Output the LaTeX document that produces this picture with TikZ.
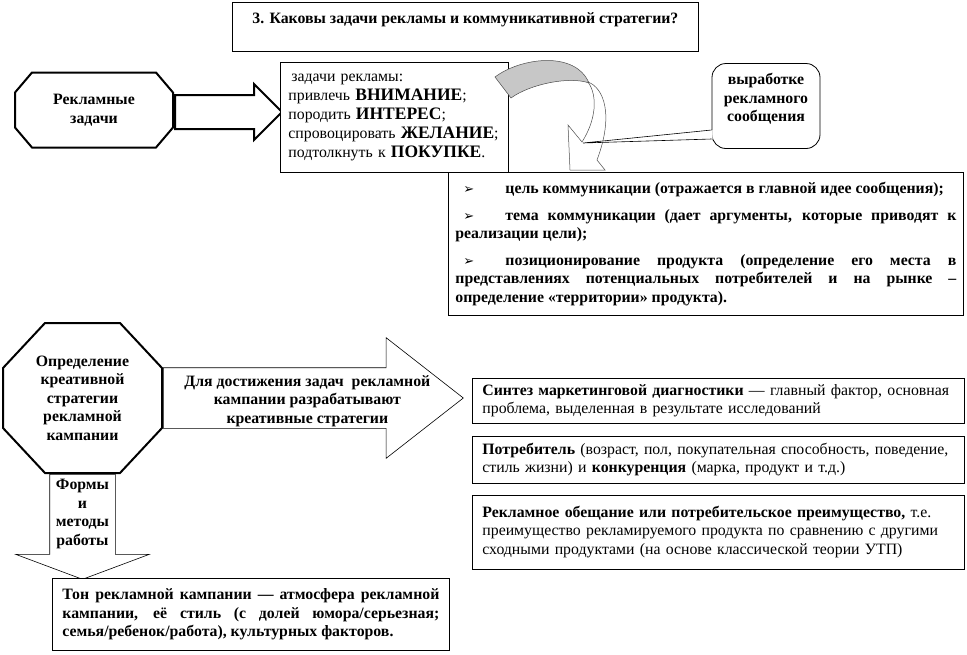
\documentclass[tikz,border=0pt]{standalone}
\usepackage{fontspec}
\setmainfont{Liberation Serif}
\newfontfamily\symfont{DejaVu Sans}
\usetikzlibrary{positioning, calc, shapes.arrows}

\newcommand{\capword}[1]{{\bfseries\fontsize{17.5}{18.5}\selectfont #1}}
\newcommand{\bulletmark}{\hspace*{8pt}\makebox[42pt][l]{\symfont\fontsize{13}{13}\selectfont ➢}}
% octagon frame round a named node: #2 = chamfer along x, #3 = chamfer along y
\newcommand{\octframe}[3]{%
  \draw[octline] ($(#1.north west)+(#2,0)$) -- ($(#1.north east)+(-#2,0)$)
    -- ($(#1.north east)+(0,#3)$) -- ($(#1.south east)+(0,-#3)$)
    -- ($(#1.south east)+(-#2,0)$) -- ($(#1.south west)+(#2,0)$)
    -- ($(#1.south west)+(0,-#3)$) -- ($(#1.north west)+(0,#3)$) -- cycle;}

\begin{document}
\begin{tikzpicture}[x=1pt, y=-1pt,
    font=\fontsize{15.8}{18.5}\selectfont\bfseries,
    box/.style={rectangle, draw=black, line width=0.8pt, fill=white, inner xsep=8pt, inner ysep=4pt},
    octbox/.style={rectangle, align=center, inner sep=0pt, outer sep=0pt},
    octline/.style={draw=black, line width=2pt, line join=miter},
    blockarr/.style={single arrow, draw=black, fill=white, inner xsep=0pt,
                     single arrow head indent=0pt, anchor=tail},
    lbl/.style={align=center, inner sep=0pt},
    curv/.style={draw=black!70, line width=0.5pt}
]
\useasboundingbox (0,0) rectangle (967,654);

% question on top
\node[box, anchor=north west, minimum width=466pt, text height=17pt, text depth=24pt] (quest) at (232,2)
  {3. Каковы задачи рекламы и коммуникативной стратегии?};

% advertising tasks
\node[octbox, minimum width=158pt, minimum height=75pt] (rek) at (94,110) {Рекламные\\задачи};
\octframe{rek}{17}{20}
\node[blockarr, line width=2pt, inner ysep=16pt, single arrow head extend=11pt,
      minimum height=107pt] (arr1) at ($(rek.east)+(1,2)$) {};
\node[box, anchor=north west, text width=212pt, minimum height=110pt, align=left, font=\fontsize{15.8}{19}\selectfont\mdseries] (tasks) at (280,62)
  {\hspace*{3pt}задачи рекламы:\\
   привлечь \capword{ВНИМАНИЕ};\\
   породить \capword{ИНТЕРЕС};\\
   спровоцировать \capword{ЖЕЛАНИЕ};\\
   подтолкнуть к \capword{ПОКУПКЕ}.};

% curved arrow
\filldraw[curv, fill=black!22] (495,77) .. controls (520,58) and (575,50) .. (589,83)
  .. controls (570,76) and (530,84) .. (511,98) -- cycle;
\filldraw[curv, fill=white] (568,125) -- (582,142) .. controls (596,120) and (598,96) .. (588,82)
  .. controls (604,88) and (614,115) .. (597,160) -- (605,170) -- (570,170) -- cycle;

% callout
\node[box, rounded corners=14pt, align=center, minimum width=108pt, minimum height=85pt,
      inner xsep=4pt, text depth=17pt] (msg) at (766,106) {выработке\\рекламного\\сообщения};
\coordinate (ptr) at (583,143);
\fill[white] ($(msg.west)+(0,24)$) -- (ptr) -- ($(msg.west)+(0,33)$) -- ($(msg.west)+(1,33)$) -- ($(msg.west)+(1,24)$) -- cycle;
\draw[line width=0.6pt] ($(msg.west)+(0,24)$) -- (ptr) -- ($(msg.west)+(0,33)$);

% communication
\node[box, anchor=north west, text width=501pt, minimum height=143pt, align=justify, inner xsep=7pt] (comm) at (448,172)
  {\setlength{\parskip}{8pt}%
   \noindent\bulletmark цель коммуникации (отражается в главной идее сообщения);\par
   \noindent\bulletmark тема коммуникации (дает аргументы, которые приводят к\linebreak
   реализации цели);\par
   \noindent\bulletmark позиционирование продукта (определение его места в\linebreak
   представлениях потенциальных потребителей и на рынке –\linebreak
   определение «территории» продукта).};

% creative strategy
\node[octbox, minimum width=159pt, minimum height=150pt] (creat) at (82.5,398)
  {Определение\\креативной\\стратегии\\рекламной\\кампании};
\octframe{creat}{42}{45}
\node[blockarr, line width=0.6pt, inner ysep=30pt, single arrow head extend=30pt,
      single arrow tip angle=76, minimum height=300pt] (arr2) at ($(creat.east)+(1,0)$) {};
\node[lbl] (goal) at ($(arr2.tail)!0.48!(arr2.tip)+(0,3)$)
  {Для достижения задач~ рекламной\\кампании разрабатывают\\креативные стратегии};
\node[blockarr, rotate=-90, line width=0.6pt, inner ysep=32.5pt, single arrow head extend=34pt,
      single arrow tip angle=139, minimum height=105pt] (arr3) at ($(creat.south)+(0,1)$) {};
\node[lbl] (forms) at ($(creat.south)+(0,41)$) {Формы\\и\\методы\\работы};

\node[box, anchor=north west, text width=377pt, minimum height=72pt, align=justify, inner xsep=10pt] (tone) at (52,578)
  {Тон рекламной кампании — атмосфера рекламной\linebreak
   кампании, её стиль (с долей юмора/серьезная;\linebreak
   семья/ребенок/работа), культурных факторов.};

% strategies
\node[box, anchor=north west, text width=472pt, minimum height=45pt, align=left, inner xsep=10pt] (synth) at (472,378)
  {Синтез маркетинговой диагностики \mdseries — главный фактор, основная\\
   проблема, выделенная в результате исследований};
\node[box, below=12pt of synth, text width=472pt, minimum height=47pt, align=left, inner xsep=10pt] (consumer)
  {Потребитель \mdseries (возраст, пол, покупательная способность, поведение,\\
   стиль жизни) и \bfseries конкуренция \mdseries (марка, продукт и т.д.)};
\node[box, below=11pt of consumer, text width=472pt, minimum height=74pt, align=left, inner xsep=10pt] (promise)
  {Рекламное обещание или потребительское преимущество, \mdseries т.е.\\
   преимущество рекламируемого продукта по сравнению с другими\\
   сходными продуктами (на основе классической теории УТП)};
\end{tikzpicture}
\end{document}
